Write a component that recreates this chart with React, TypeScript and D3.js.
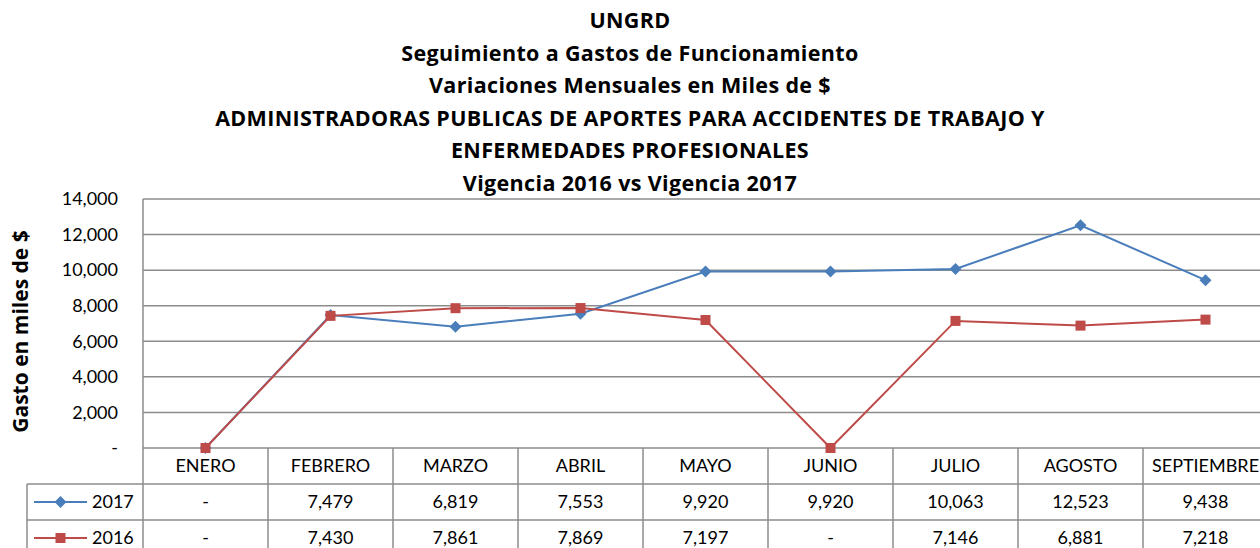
import React from "react";
import * as d3 from "d3";

const months = ["ENERO", "FEBRERO", "MARZO", "ABRIL", "MAYO", "JUNIO", "JULIO", "AGOSTO", "SEPTIEMBRE"];
const values2017 = [0, 7479, 6819, 7553, 9920, 9920, 10063, 12523, 9438];
const values2016 = [0, 7430, 7861, 7869, 7197, 0, 7146, 6881, 7218];
const yTicks = [0, 2000, 4000, 6000, 8000, 10000, 12000, 14000];
const titleLines = [
  "UNGRD",
  "Seguimiento a Gastos de Funcionamiento",
  "Variaciones Mensuales en Miles de $",
  "ADMINISTRADORAS PUBLICAS DE APORTES PARA ACCIDENTES DE TRABAJO Y",
  "ENFERMEDADES PROFESIONALES",
  "Vigencia 2016 vs Vigencia 2017",
];

const series = [
  { name: "2017", values: values2017, color: "#4a7ebb", marker: "diamond" },
  { name: "2016", values: values2016, color: "#be4b48", marker: "square" },
];

const W = 1260;
const H = 548;
const left = 143;
const colW = 125;
const top = 199;
const bottom = 448;
const rowH = 36;
const legendLeft = 27;
const font = "Lato, 'Open Sans', sans-serif";
const titleFont = "'Open Sans', Lato, sans-serif";
const grid = "#8c8c8c";

const fmt = (v: number) => (v === 0 ? "-" : d3.format(",")(v));

export default function App() {
  const x = d3
    .scaleBand<string>()
    .domain(months)
    .range([left, left + colW * months.length]);
  const y = d3.scaleLinear().domain([0, 14000]).range([bottom, top]);

  const line = (vals: number[]) =>
    d3
      .line<number>()
      .x((_, i) => x(months[i])! + x.bandwidth() / 2)
      .y((d) => y(d))(vals) || "";

  const marker = (m: string, cx: number, cy: number, color: string, k: string) =>
    m === "square" ? (
      <rect key={k} x={cx - 5} y={cy - 5} width={10} height={10} fill={color} />
    ) : (
      <path key={k} d={`M${cx},${cy - 6}L${cx + 6},${cy}L${cx},${cy + 6}L${cx - 6},${cy}Z`} fill={color} />
    );

  const right = left + colW * months.length;
  const tableBottom = bottom + rowH * 3;

  return (
    <svg width={W} height={H} style={{ position: "absolute", left: 0, top: 0, background: "#fff" }}>
      {titleLines.map((t, i) => (
        <text
          key={t}
          x={630}
          y={28 + i * 32.6}
          textAnchor="middle"
          fontFamily={titleFont}
          fontWeight="bold"
          fontSize={21.5}
          letterSpacing={0.35}
          fill="#000"
        >
          {t}
        </text>
      ))}
      <text
        transform={`translate(28,${(top + bottom) / 2 + 8}) rotate(-90)`}
        textAnchor="middle"
        fontFamily={titleFont}
        fontWeight="bold"
        fontSize={21}
      >
        Gasto en miles de $
      </text>

      {yTicks.map((t) => (
        <g key={t}>
          <line x1={left} x2={right} y1={y(t)} y2={y(t)} stroke={grid} strokeWidth={1.5} />
          <text x={118} y={y(t)} dy="0.35em" textAnchor="end" fontFamily={font} fontSize={18}>
            {fmt(t)}
          </text>
        </g>
      ))}

      {/* table */}
      <line x1={left} x2={left} y1={top} y2={tableBottom} stroke={grid} strokeWidth={1.5} />
      {months.map((m) => (
        <line key={m} x1={x(m)! + colW} x2={x(m)! + colW} y1={bottom} y2={tableBottom} stroke={grid} strokeWidth={1.5} />
      ))}
      <line x1={legendLeft} x2={legendLeft} y1={bottom + rowH} y2={tableBottom} stroke={grid} strokeWidth={1.5} />
      {[1, 2, 3].map((r) => (
        <line key={r} x1={legendLeft} x2={right} y1={bottom + rowH * r} y2={bottom + rowH * r} stroke={grid} strokeWidth={1.5} />
      ))}
      {months.map((m) => (
        <text key={m} x={x(m)! + colW / 2} y={bottom + rowH / 2} dy="0.35em" textAnchor="middle" fontFamily={font} fontSize={18}>
          {m}
        </text>
      ))}
      {series.map((s, r) => {
        const cy = bottom + rowH * (r + 1) + rowH / 2;
        return (
          <g key={s.name}>
            <line x1={34} x2={87} y1={cy} y2={cy} stroke={s.color} strokeWidth={2} />
            {marker(s.marker, 60.5, cy, s.color, "lg")}
            <text x={92} y={cy} dy="0.35em" fontFamily={font} fontSize={18}>
              {s.name}
            </text>
            {s.values.map((v, i) => (
              <text key={i} x={x(months[i])! + colW / 2} y={cy} dy="0.35em" textAnchor="middle" fontFamily={font} fontSize={18}>
                {fmt(v)}
              </text>
            ))}
          </g>
        );
      })}

      {series.map((s) => (
        <g key={s.name}>
          <path d={line(s.values)} fill="none" stroke={s.color} strokeWidth={2} />
          {s.values.map((v, i) => marker(s.marker, x(months[i])! + colW / 2, y(v), s.color, String(i)))}
        </g>
      ))}
    </svg>
  );
}
